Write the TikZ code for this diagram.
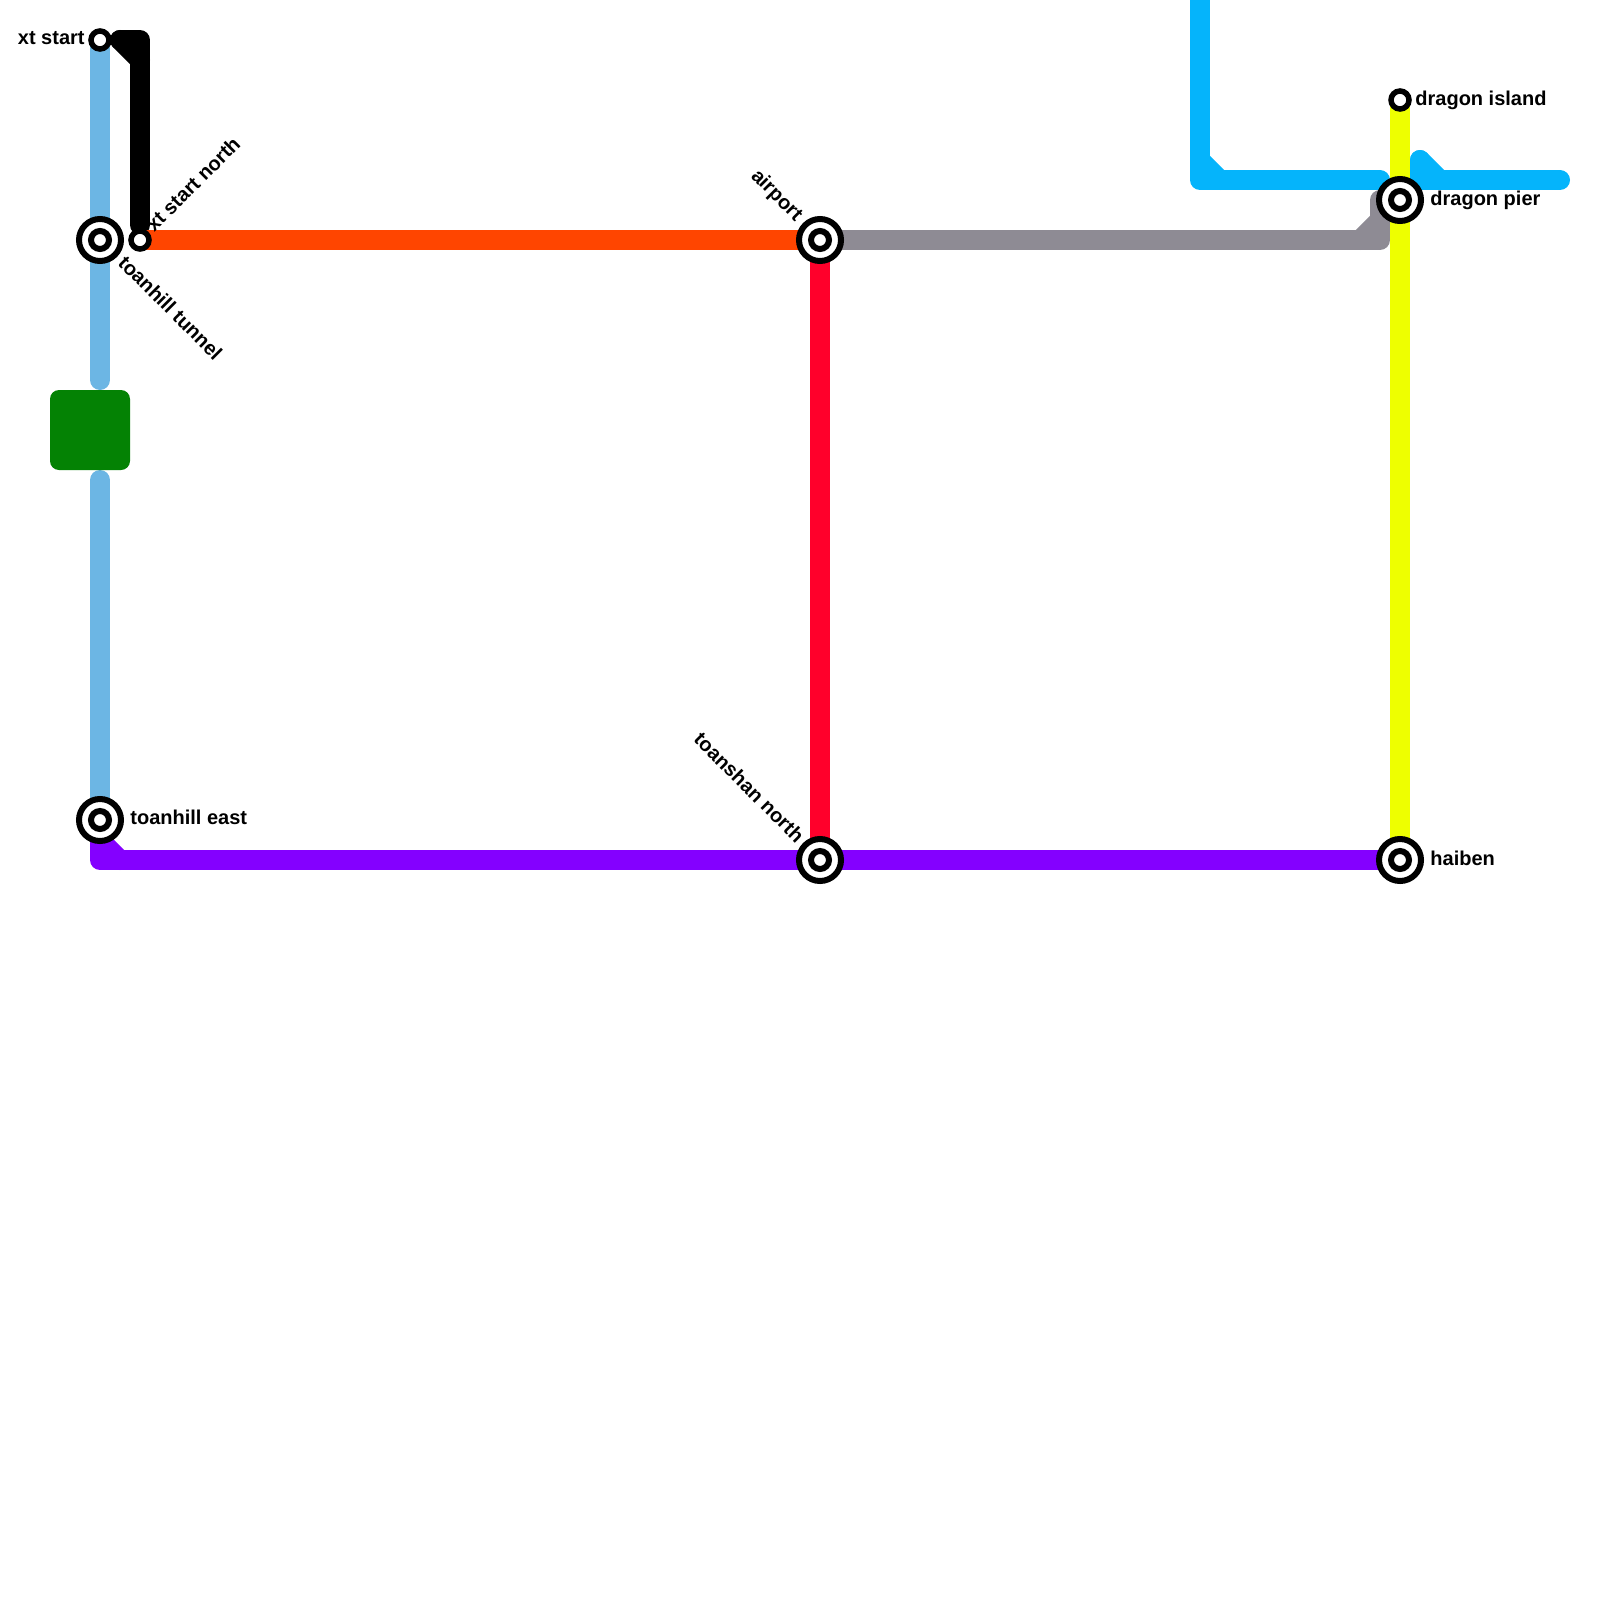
\documentclass[tikz,border=0pt]{standalone}
\usepackage{fontspec}
\setmainfont{Liberation Sans}
\usetikzlibrary{backgrounds}
\tikzset{
  x=0.5pt,y=-0.5pt,
  metroline/.style={line width=10pt,line cap=round,line join=round},
  ringouter/.style={circle,draw=black,fill=white,line width=3pt,minimum size=21pt,inner sep=0pt},
  ringinner/.style={circle,draw=black,fill=white,line width=3pt,minimum size=9pt,inner sep=0pt},
  smallstop/.style={circle,draw=black,fill=white,line width=2.75pt,minimum size=9pt,inner sep=0pt},
  stoplabel/.style={font=\bfseries\fontsize{10}{12}\selectfont,inner sep=0pt,text=black},
  block/.style={rectangle,rounded corners=4.5pt,fill=blockgreen,minimum size=40pt,inner sep=0pt}
}
\definecolor{blockgreen}{HTML}{048204}
\definecolor{skyline}{HTML}{6CB6E4}
\definecolor{orangeline}{HTML}{FF4500}
\definecolor{redline}{HTML}{FF002B}
\definecolor{greyline}{HTML}{8E8B94}
\definecolor{cyanline}{HTML}{05B4FB}
\definecolor{yellowline}{HTML}{EEFF00}
\definecolor{purpleline}{HTML}{8400FF}
\begin{document}
\begin{tikzpicture}
\useasboundingbox (0,0) rectangle (1600,1600);
% stations
\node[smallstop] (xtstart) at (100,40) {};
\node[smallstop] (xtnorth) at (140,240) {};
\node[smallstop] (island) at (1400,100) {};
\node[ringouter] (tunnel) at (100,240) {};
\node[ringinner] (tunnelc) at (100,240) {};
\node[ringouter] (east) at (100,820) {};
\node[ringinner] (eastc) at (100,820) {};
\node[ringouter] (airport) at (820,240) {};
\node[ringinner] (airportc) at (820,240) {};
\node[ringouter] (tnorth) at (820,860) {};
\node[ringinner] (tnorthc) at (820,860) {};
\node[ringouter] (haiben) at (1400,860) {};
\node[ringinner] (haibenc) at (1400,860) {};
\node[ringouter] (pier) at (1400,200) {};
\node[ringinner] (pierc) at (1400,200) {};
\node[block] (green) at (90,430) {};
% bends and free ends
\coordinate (bA) at (120,40);
\coordinate (bB) at (140,40);
\coordinate (bC) at (140,60);
\coordinate (bD) at (140,225);
\coordinate (skyA) at (100,380);
\coordinate (skyB) at (100,480);
\coordinate (cA) at (1200,-12);
\coordinate (cB) at (1200,180);
\coordinate (cC) at (1380,180);
\coordinate (cD) at (1200,160);
\coordinate (cE) at (1220,180);
\coordinate (cF) at (1420,160);
\coordinate (cG) at (1420,180);
\coordinate (cH) at (1560,180);
\coordinate (cI) at (1440,180);
\coordinate (gA) at (1380,240);
\coordinate (gB) at (1380,200);
\coordinate (gC) at (1380,220);
\coordinate (gD) at (1360,240);
\coordinate (pA) at (100,860);
\coordinate (pB) at (100,840);
\coordinate (pC) at (120,860);
% lines
\begin{scope}[on background layer]
\draw[metroline,skyline] (xtstart.center) -- (skyA);
\draw[metroline,skyline] (skyB) -- (east.center);
\draw[metroline,black] (bA) -- (bB) -- (bD);
\draw[metroline,black] (bA) -- (bC);
\draw[metroline,cyanline] (cA) -- (cB) -- (cC);
\draw[metroline,cyanline] (cD) -- (cE);
\draw[metroline,cyanline] (cF) -- (cG) -- (cH);
\draw[metroline,cyanline] (cF) -- (cI);
\draw[metroline,yellowline,line cap=butt] (island.center) -- (haiben.center);
\draw[metroline,greyline] (airport.center) -- (gA) -- (gB);
\draw[metroline,greyline] (gC) -- (gD);
\draw[metroline,orangeline] (xtnorth.center) -- (airport.center);
\draw[metroline,redline] (airport.center) -- (tnorth.center);
\draw[metroline,purpleline] (east.center) -- (pA) -- (haiben.center);
\draw[metroline,purpleline] (pB) -- (pC);
\end{scope}
% labels
\node[stoplabel,anchor=base east] (lxtstart) at (85,45) {xt start};
\node[stoplabel,anchor=west,rotate=45] (lxtnorth) at (149,228) {xt start north};
\node[stoplabel,anchor=west,rotate=-45] (ltunnel) at (122,259) {toanhill tunnel};
\node[stoplabel,anchor=base west] (least) at (130,824.5) {toanhill east};
\node[stoplabel,anchor=east,rotate=-45] (lairport) at (799,218.5) {airport};
\node[stoplabel,anchor=east,rotate=-45] (ltnorth) at (801,839) {toanshan north};
\node[stoplabel,anchor=base west] (lisland) at (1415,105) {dragon island};
\node[stoplabel,anchor=base west] (lpier) at (1430,205) {dragon pier};
\node[stoplabel,anchor=base west] (lhaiben) at (1430,865) {haiben};
\end{tikzpicture}
\end{document}
